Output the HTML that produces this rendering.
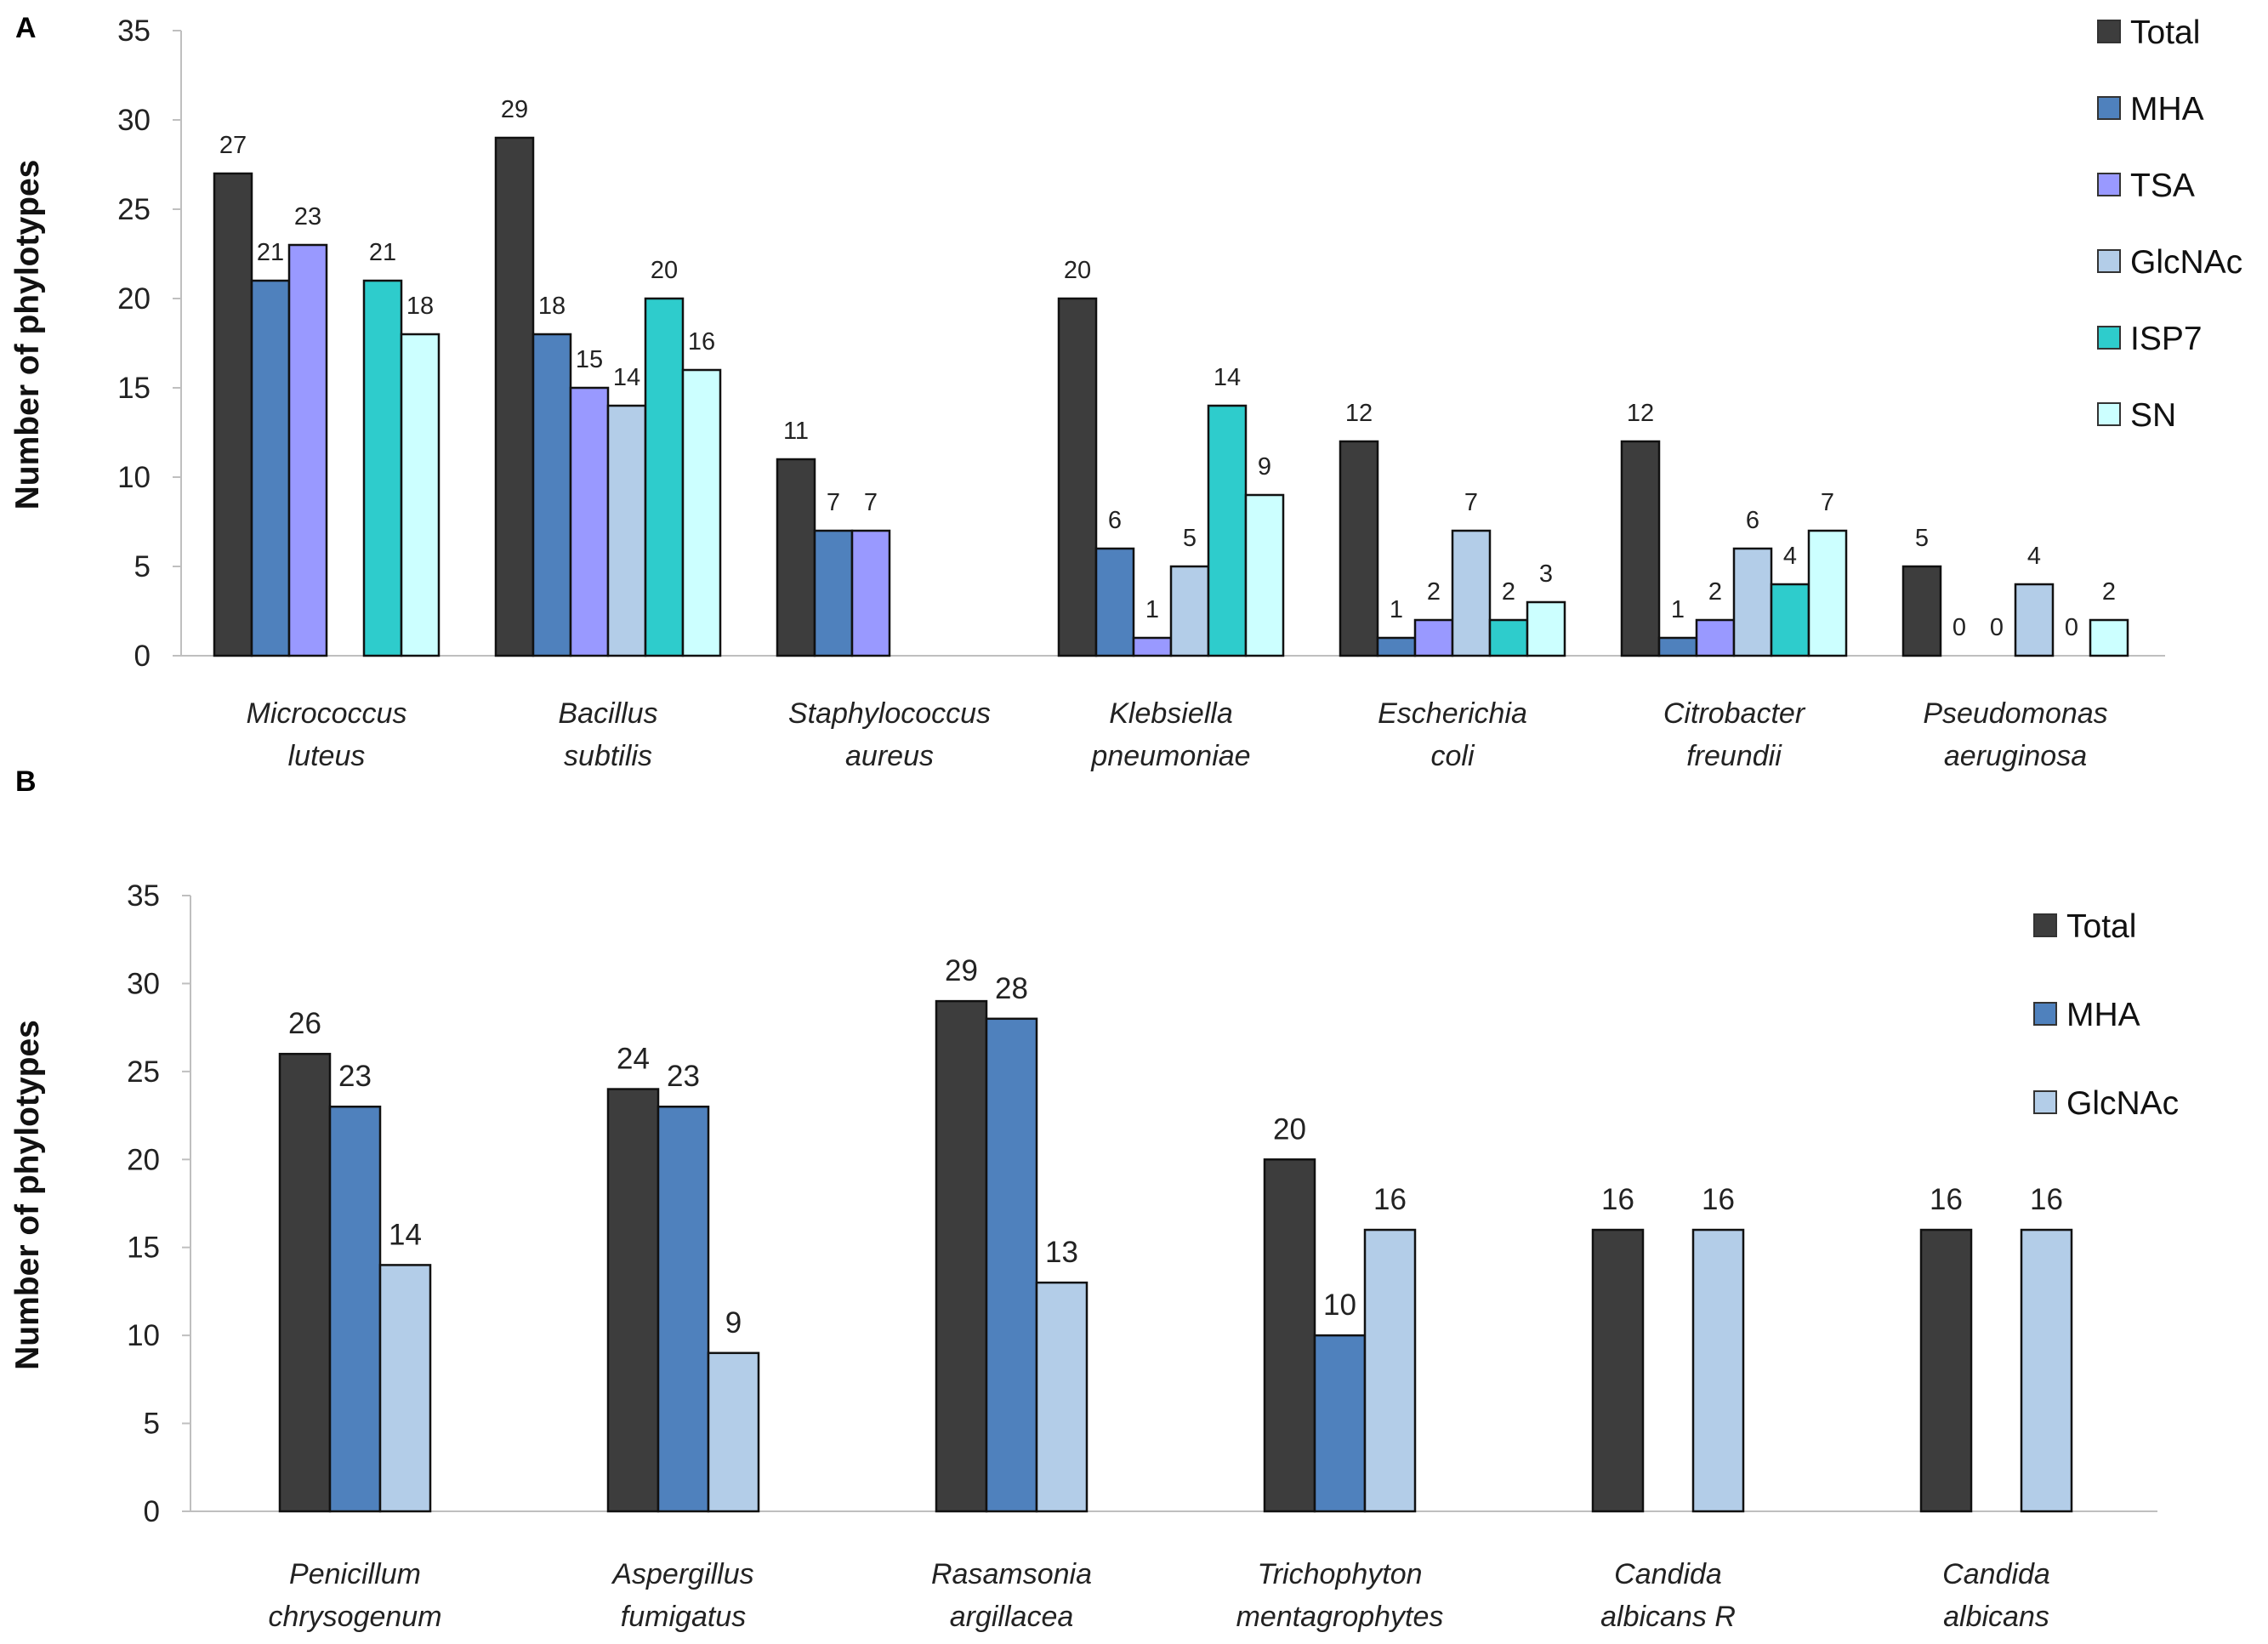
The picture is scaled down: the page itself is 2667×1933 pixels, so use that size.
<!DOCTYPE html>
<html><head><meta charset="utf-8"><style>
html,body{margin:0;padding:0;background:#fff}
svg{display:block}
text{font-family:"Liberation Sans",sans-serif}
</style></head><body>
<svg id="fig" width="2667" height="1933" viewBox="0 0 2667 1933" xmlns="http://www.w3.org/2000/svg">
<text x="18" y="44" font-size="34" font-weight="bold">A</text>
<text x="18" y="930" font-size="34" font-weight="bold">B</text>
<g id="chartA"></g>
<g id="chartB"></g>
</svg>
<script>
const catsA = [["Micrococcus","luteus"],["Bacillus","subtilis"],["Staphylococcus","aureus"],["Klebsiella","pneumoniae"],["Escherichia","coli"],["Citrobacter","freundii"],["Pseudomonas","aeruginosa"]];
const seriesNamesA = ["Total","MHA","TSA","GlcNAc","ISP7","SN"];
const totalA = [27,29,11,20,12,12,5];
const mhaA = [21,18,7,6,1,1,0];
const tsaA = [23,15,7,1,2,2,0];
const glcA = [null,14,null,5,7,6,4];
const isp7A = [21,20,null,14,2,4,0];
const snA = [18,16,null,9,3,7,2];
const catsB = [["Penicillum","chrysogenum"],["Aspergillus","fumigatus"],["Rasamsonia","argillacea"],["Trichophyton","mentagrophytes"],["Candida","albicans R"],["Candida","albicans"]];
const seriesNamesB = ["Total","MHA","GlcNAc"];
const totalB = [26,24,29,20,16,16];
const mhaB = [23,23,28,10,null,null];
const glcB = [14,9,13,16,16,16];
const yTicks = [0,5,10,15,20,25,30,35];
const colors = {"Total":"#3d3d3d","MHA":"#4f81bd","TSA":"#9999ff","GlcNAc":"#b3cde8","ISP7":"#2ecccc","SN":"#ccffff"};

const NS="http://www.w3.org/2000/svg";
function mk(p,tag,attrs,txt){const e=document.createElementNS(NS,tag);for(const k in attrs)e.setAttribute(k,attrs[k]);if(txt!==undefined)e.textContent=txt;p.appendChild(e);return e;}

function drawChart(g,cfg){
  const y=v=>cfg.y0-(v/35)*(cfg.y0-cfg.y35);
  const ya=mk(g,'line',{x1:cfg.ax,y1:cfg.y35,x2:cfg.ax,y2:cfg.y0,stroke:'#bfbfbf','stroke-width':2});
  
  
  const xa=mk(g,'line',{x1:cfg.ax,y1:cfg.y0,x2:cfg.axEnd,y2:cfg.y0,stroke:'#bfbfbf','stroke-width':2});
  
  
  yTicks.forEach(t=>{
    const tk=mk(g,'line',{x1:cfg.ax-10,y1:y(t),x2:cfg.ax,y2:y(t),stroke:'#bfbfbf','stroke-width':2});
    
    
    const tl=mk(g,'text',{x:cfg.ax-36,y:y(t)+12,'font-size':35,'text-anchor':'end',fill:'#222'},String(t));
    
    
  });
  const tt=mk(g,'text',{x:0,y:0,'font-size':39,'font-weight':'bold','text-anchor':'middle',fill:'#111',transform:`translate(45,${(cfg.y0+cfg.y35)/2-10}) rotate(-90)`},'Number of phylotypes');
  
  
  const n=cfg.series.length, gw=cfg.bw*n;
  cfg.cats.forEach((c,i)=>{
    const gx=cfg.ax+cfg.off+cfg.band*i;
    cfg.series.forEach((s,j)=>{
      const v=s[i]; if(v===null) return;
      const bx=gx+j*cfg.bw;
      if(v>0){
        const r=mk(g,'rect',{x:bx,y:y(v),width:cfg.bw,height:y(0)-y(v),fill:colors[cfg.names[j]],stroke:'#111','stroke-width':2.5});
        
        
      }
      const vl=mk(g,'text',{x:bx+cfg.bw/2,y:y(v)-24,'font-size':cfg.vfs,'text-anchor':'middle',fill:'#222'},String(v));
      
      
    });
    const cx=gx+gw/2;
    const l1=mk(g,'text',{x:cx,y:cfg.l1,'font-size':34,'font-style':'italic','text-anchor':'middle',fill:'#222'},c[0]);
    
    
    const l2=mk(g,'text',{x:cx,y:cfg.l1+50,'font-size':34,'font-style':'italic','text-anchor':'middle',fill:'#222'},c[1]);
    
    
  });
  cfg.names.forEach((nm,k)=>{
    const ly=cfg.legY+k*cfg.legStep;
    const sq=mk(g,'rect',{x:cfg.legX,y:ly-13,width:26,height:26,fill:colors[nm],stroke:'#333','stroke-width':2});
    
    
    const lt=mk(g,'text',{x:cfg.legX+38,y:ly+14,'font-size':39,fill:'#111'},nm);
    
    
  });
}
drawChart(document.getElementById('chartA'),{ax:213,axEnd:2546,off:39,y0:771,y35:36,band:331,bw:44,cats:catsA,series:[totalA,mhaA,tsaA,glcA,isp7A,snA],names:seriesNamesA,vfs:29,l1:850,legX:2467,legY:37,legStep:90});
drawChart(document.getElementById('chartB'),{ax:224,axEnd:2537,off:105,y0:1777,y35:1053,band:386,bw:59,cats:catsB,series:[totalB,mhaB,glcB],names:seriesNamesB,vfs:35,l1:1862,legX:2392,legY:1088,legStep:104});
</script>
</body></html>
